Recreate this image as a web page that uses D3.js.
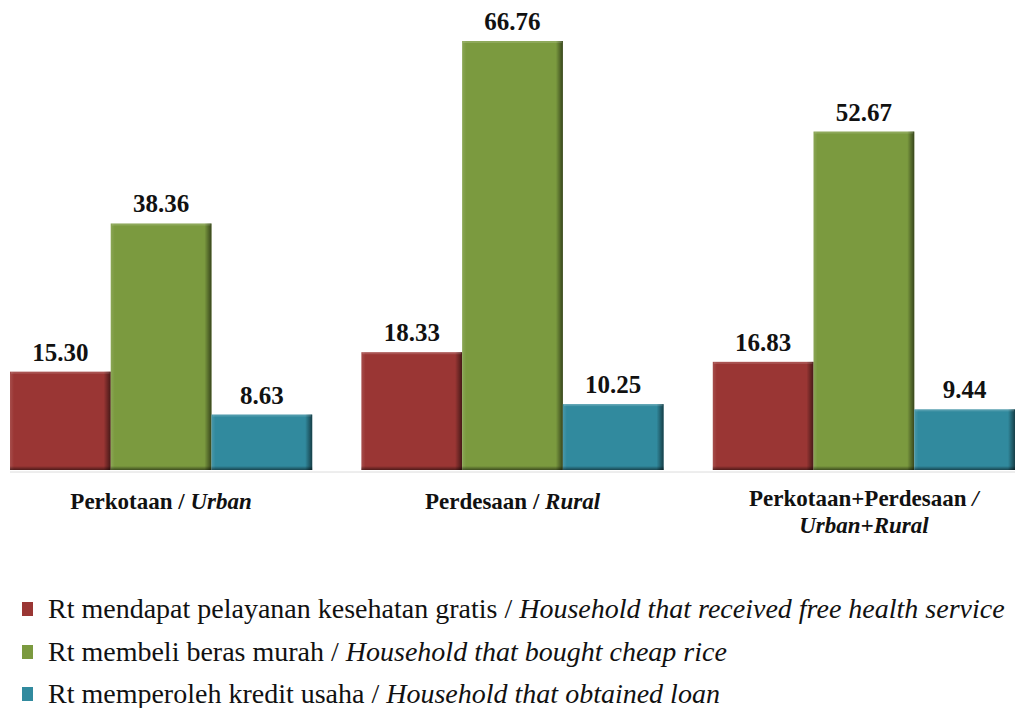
<!DOCTYPE html>
<html>
<head>
<meta charset="utf-8">
<script src="https://cdn.jsdelivr.net/npm/d3@7"></script>
<style>
  body { margin: 0; background: #fff; }
  svg { display: block; }
  text { font-family: "Liberation Serif", "Times New Roman", serif; fill: #111; }
</style>
</head>
<body>
<svg id="chart" width="1030" height="708"></svg>
<script>
// Area types: Indonesian label + English (italic) label
const categories = ["Perkotaan / Urban", "Perdesaan / Rural", "Perkotaan+Perdesaan / Urban+Rural"];
const categoryLines = [
  [[["Perkotaan / ", false], ["Urban", true]]],
  [[["Perdesaan / ", false], ["Rural", true]]],
  [[["Perkotaan+Perdesaan  ", false], ["/", true]], [["Urban+Rural", true]]]
];
const seriesNames = [
  ["Rt mendapat pelayanan kesehatan gratis / ", "Household that received free health service"],
  ["Rt membeli  beras murah / ", "Household that bought cheap rice"],
  ["Rt memperoleh  kredit usaha / ", "Household that obtained loan"]
];
const healthService = [15.30, 18.33, 16.83];
const cheapRice     = [38.36, 66.76, 52.67];
const loan          = [8.63, 10.25, 9.44];
const seriesColors  = ["#9a3634", "#7b9a3f", "#318a9e"];

const series = [healthService, cheapRice, loan];

const svg = d3.select("#chart");
const baseline = 470;

const x0 = d3.scaleBand().domain(categories).range([10, 1015]).paddingInner(0.14).paddingOuter(0);
const x1 = d3.scaleBand().domain([0, 1, 2]).range([0, x0.bandwidth()]).padding(0);
const y = d3.scaleLinear().domain([0, 66.76]).range([baseline, 41]);

// gradients giving the bars a bevelled edge
const defs = svg.append("defs");
const edge = defs.append("linearGradient").attr("id", "edgeShade").attr("x1", 0).attr("x2", 1);
edge.append("stop").attr("offset", "0").attr("stop-color", "#fff").attr("stop-opacity", 0.12);
edge.append("stop").attr("offset", "0.04").attr("stop-color", "#fff").attr("stop-opacity", 0);
edge.append("stop").attr("offset", "0.93").attr("stop-color", "#000").attr("stop-opacity", 0);
edge.append("stop").attr("offset", "1").attr("stop-color", "#000").attr("stop-opacity", 0.55);
const bottomShade = defs.append("linearGradient").attr("id", "bottomShade").attr("x1", 0).attr("x2", 0).attr("y1", 0).attr("y2", 1);
bottomShade.append("stop").attr("offset", "0").attr("stop-color", "#000").attr("stop-opacity", 0);
bottomShade.append("stop").attr("offset", "1").attr("stop-color", "#000").attr("stop-opacity", 0.5);

// faint baseline
svg.append("line")
  .attr("x1", x0.range()[0]).attr("x2", x0.range()[1])
  .attr("y1", baseline + 2).attr("y2", baseline + 2)
  .attr("stroke", "#dcdcdc").attr("stroke-width", 1);

const groups = svg.selectAll("g.grp").data(categories).join("g")
  .attr("class", "grp")
  .attr("transform", d => `translate(${x0(d)},0)`);

groups.each(function(cat, ci) {
  const g = d3.select(this);
  series.forEach((vals, si) => {
    const v = vals[ci];
    const bx = x1(si), bw = x1.bandwidth();
    const by = y(v), bh = baseline - y(v);
    g.append("rect").attr("x", bx).attr("y", by).attr("width", bw).attr("height", bh)
      .attr("fill", seriesColors[si]);
    g.append("rect").attr("x", bx).attr("y", by).attr("width", bw).attr("height", bh)
      .attr("fill", "url(#edgeShade)");
    g.append("rect").attr("x", bx).attr("y", baseline - 4).attr("width", bw).attr("height", 4)
      .attr("fill", "url(#bottomShade)");
    g.append("rect").attr("x", bx + 1).attr("y", by).attr("width", bw - 2).attr("height", 2)
      .attr("fill", "#fff").attr("opacity", 0.15);
    g.append("text")
      .attr("x", bx + bw / 2).attr("y", by - 11)
      .attr("text-anchor", "middle")
      .attr("font-weight", "bold").attr("font-size", 25)
      .text(d3.format(".2f")(v));
  });

  // category label under the group (one or two lines)
  const cx = x0.bandwidth() / 2;
  const lines = categoryLines[ci];
  const y0 = lines.length === 1 ? 509 : 506;
  lines.forEach((parts, li) => {
    const t = g.append("text").attr("x", cx).attr("y", y0 + li * 27).attr("text-anchor", "middle")
      .attr("font-weight", "bold").attr("font-size", 23);
    parts.forEach(([s, it]) => t.append("tspan").attr("font-style", it ? "italic" : "normal").text(s));
  });
});

// legend
const legend = svg.append("g");
const legendY = [618, 661, 703];
seriesNames.forEach((nm, i) => {
  legend.append("rect").attr("x", 22).attr("y", legendY[i] - 16).attr("width", 11).attr("height", 14)
    .attr("fill", seriesColors[i]);
  const t = legend.append("text").attr("x", 48).attr("y", legendY[i]).attr("font-size", 28);
  t.append("tspan").text(nm[0]);
  t.append("tspan").attr("font-style", "italic").text(nm[1]);
});
</script>
</body>
</html>
